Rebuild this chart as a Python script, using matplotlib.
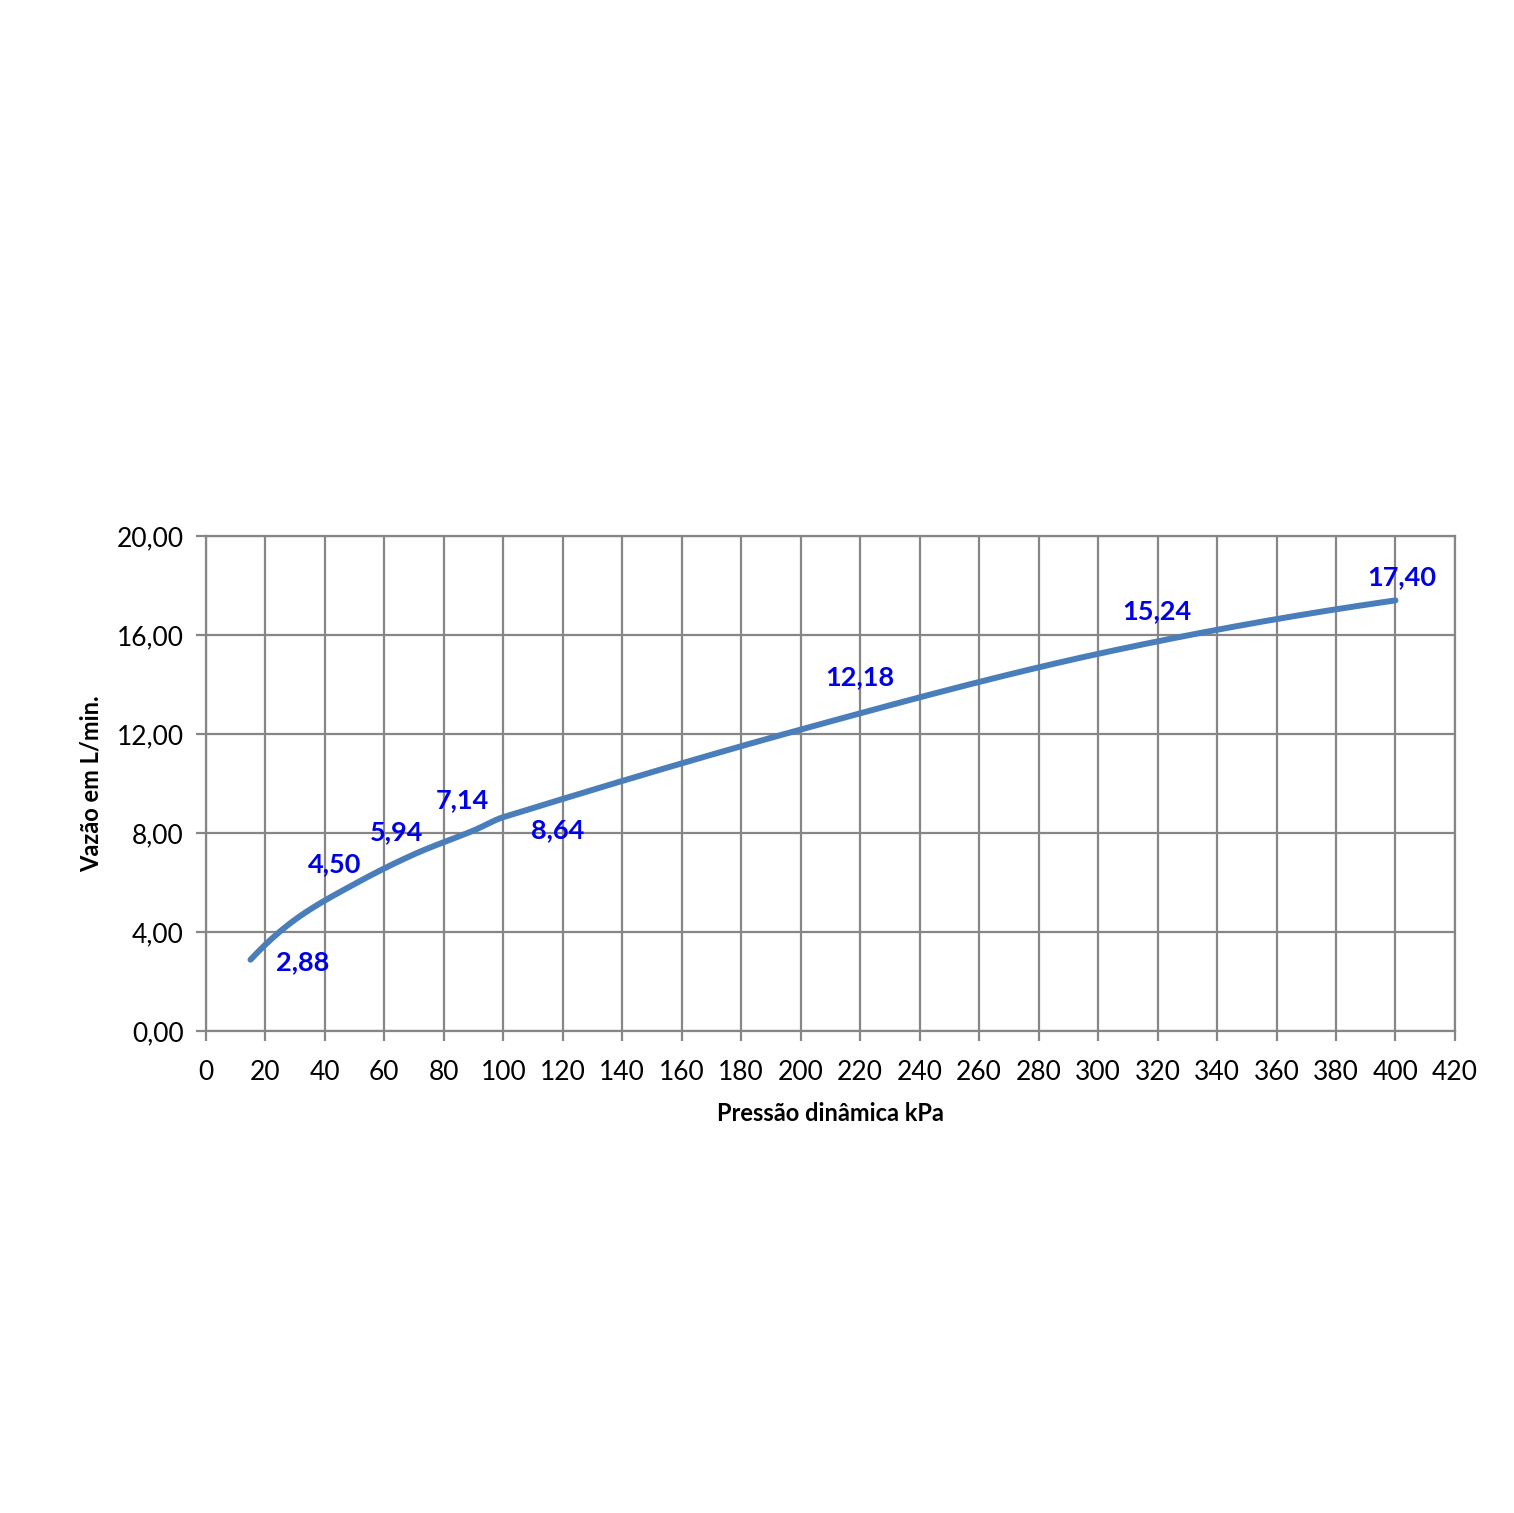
import numpy as np
import matplotlib
matplotlib.use("Agg")
import matplotlib.pyplot as plt

plt.rcParams['font.family'] = ['Lato', 'DejaVu Sans']

# data
pressao = [15, 30, 50, 70, 90, 100, 200, 300, 400]
vazao = [2.88, 4.50, 5.94, 7.14, 8.10, 8.64, 12.18, 15.24, 17.40]
rotulos = ['2,88', '4,50', '5,94', '7,14', None, '8,64', '12,18', '15,24', '17,40']
# label offsets in pixels (dx, dy), placed by hand like in the original
offsets = [(52, -2), (39, 55), (42, 52), (48, 54), None, (54, -13), (59, 52), (59, 43), (6, 23)]

x_ticks = list(range(0, 421, 20))
y_ticks = [0, 4, 8, 12, 16, 20]


def smooth(xs, ys, n=40):
    # cubic hermite, slopes from neighbours (like a smoothed excel line)
    xs = np.asarray(xs, float)
    ys = np.asarray(ys, float)
    m = np.zeros_like(ys)
    m[1:-1] = (ys[2:] - ys[:-2]) / (xs[2:] - xs[:-2])
    m[0] = 2 * (ys[1] - ys[0]) / (xs[1] - xs[0]) - m[1]
    m[-1] = 2 * (ys[-1] - ys[-2]) / (xs[-1] - xs[-2]) - m[-2]
    outx, outy = [], []
    t = np.linspace(0, 1, n)
    for i in range(len(xs) - 1):
        h = xs[i + 1] - xs[i]
        h00 = 2 * t**3 - 3 * t**2 + 1
        h10 = t**3 - 2 * t**2 + t
        h01 = -2 * t**3 + 3 * t**2
        h11 = t**3 - t**2
        outx.extend(xs[i] + t * h)
        outy.extend(h00 * ys[i] + h10 * h * m[i] + h01 * ys[i + 1] + h11 * h * m[i + 1])
    return outx, outy


fig = plt.figure(figsize=(15.14, 15.13), dpi=100)
ax = fig.add_axes([0.136, 0.3186, 0.825, 0.3271])

sx, sy = smooth(pressao, vazao)
ax.plot(sx, sy, color='#4A7EBB', lw=4.3, solid_capstyle='round', solid_joinstyle='round', zorder=3)

px2pt = 72 / 100
for x, y, lab, off in zip(pressao, vazao, rotulos, offsets):
    if lab is None:
        continue
    ax.annotate(lab, (x, y), xytext=(off[0] * px2pt, off[1] * px2pt),
                textcoords='offset points', ha='center', va='center',
                color='#0000E6', fontsize=19.5, fontweight='bold', zorder=4)

ax.set_xlim(0, 420)
ax.set_ylim(0, 20)
ax.set_xticks(x_ticks)
ax.set_yticks(y_ticks)
ax.set_yticklabels([('%.2f' % v).replace('.', ',') for v in y_ticks])
ax.grid(True, color='#868686', lw=1.6, zorder=0)
for s in ax.spines.values():
    s.set_color('#868686')
    s.set_linewidth(1.6)
ax.tick_params(axis='both', colors='#868686', length=7, width=1.6, labelsize=19, labelcolor='black')
ax.tick_params(axis='x', pad=14)
ax.tick_params(axis='y', pad=9)

ax.set_xlabel('Pressão dinâmica kPa', fontsize=17, fontweight='bold', labelpad=12)
ax.set_ylabel('Vazão em L/min.', fontsize=17, fontweight='bold', labelpad=10)

fig.savefig('out.png', dpi=100)
